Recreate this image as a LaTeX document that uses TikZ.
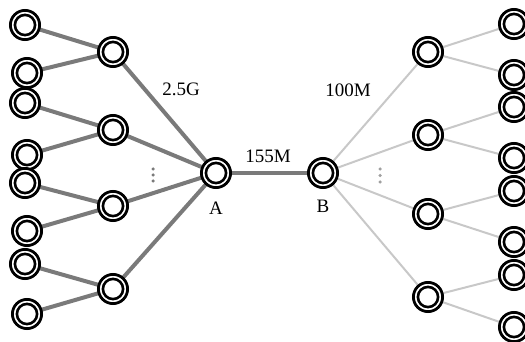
\documentclass[tikz,border=0pt]{standalone}
\usepackage{fontspec}
\setmainfont{Liberation Serif}
\usetikzlibrary{backgrounds}
\definecolor{darkedge}{RGB}{122,122,122}
\definecolor{lightedge}{RGB}{200,200,200}
\tikzset{
  dnode/.style={circle, draw=black, line width=2.8pt, fill=white, minimum size=29.2pt, inner sep=0pt,
    path picture={\draw[black, line width=2.6pt] (path picture bounding box.center) circle (10.1pt);}},
  thick edge/.style={draw=darkedge, line width=4pt},
  thin edge/.style={draw=lightedge, line width=2pt},
  lbl/.style={font=\fontsize{19}{22}\selectfont, inner sep=0pt},
  dotL/.style={fill=darkedge, circle, inner sep=0pt, minimum size=3.5pt},
  dotR/.style={fill=lightedge!80!black, circle, inner sep=0pt, minimum size=3.5pt}
}
\begin{document}
\begin{tikzpicture}[x=1pt,y=-1pt]
\useasboundingbox (0,0) rectangle (525,342);
% left leaves
\node[dnode] (l1) at (25,25) {};
\node[dnode] (l2) at (27,73) {};
\node[dnode] (l3) at (25,103) {};
\node[dnode] (l4) at (27,155) {};
\node[dnode] (l5) at (25,183) {};
\node[dnode] (l6) at (27,231) {};
\node[dnode] (l7) at (25,264) {};
\node[dnode] (l8) at (27,314) {};
% left mid
\node[dnode] (m1) at (113,52) {};
\node[dnode] (m2) at (113,130) {};
\node[dnode] (m3) at (113,206) {};
\node[dnode] (m4) at (113,289) {};
% A and B
\node[dnode] (A) at (216,173) {};
\node[dnode] (B) at (323,173) {};
% right mid
\node[dnode] (n1) at (428,52) {};
\node[dnode] (n2) at (428,135) {};
\node[dnode] (n3) at (428,214) {};
\node[dnode] (n4) at (428,297) {};
% right leaves
\node[dnode] (r1) at (514,24) {};
\node[dnode] (r2) at (514,75) {};
\node[dnode] (r3) at (514,107) {};
\node[dnode] (r4) at (514,158) {};
\node[dnode] (r5) at (514,191) {};
\node[dnode] (r6) at (514,242) {};
\node[dnode] (r7) at (514,275) {};
\node[dnode] (r8) at (514,327) {};
% labels
\node[lbl] (la) at (216,208) {A};
\node[lbl] (lb) at (323,206) {B};
\node[lbl] (t1) at (181,89) {2.5G};
\node[lbl] (t2) at (268,156) {155M};
\node[lbl] (t3) at (348,90) {100M};
% dots
\node[dotL] (d1) at (153,169) {};
\node[dotL] (d2) at (153,175) {};
\node[dotL] (d3) at (153,181) {};
\node[dotR] (e1) at (380,169) {};
\node[dotR] (e2) at (380,175.5) {};
\node[dotR] (e3) at (380,182) {};
\begin{scope}[on background layer]
\draw[thick edge] (l1.center) -- (m1.center) -- (l2.center);
\draw[thick edge] (l3.center) -- (m2.center) -- (l4.center);
\draw[thick edge] (l5.center) -- (m3.center) -- (l6.center);
\draw[thick edge] (l7.center) -- (m4.center) -- (l8.center);
\foreach \m in {m1,m2,m3,m4} \draw[thick edge] (\m.center) -- (A.center);
\draw[thick edge] (A.center) -- (B.center);
\foreach \m in {n1,n2,n3,n4} \draw[thin edge] (\m.center) -- (B.center);
\draw[thin edge] (r1.center) -- (n1.center) -- (r2.center);
\draw[thin edge] (r3.center) -- (n2.center) -- (r4.center);
\draw[thin edge] (r5.center) -- (n3.center) -- (r6.center);
\draw[thin edge] (r7.center) -- (n4.center) -- (r8.center);
\end{scope}
\end{tikzpicture}
\end{document}
